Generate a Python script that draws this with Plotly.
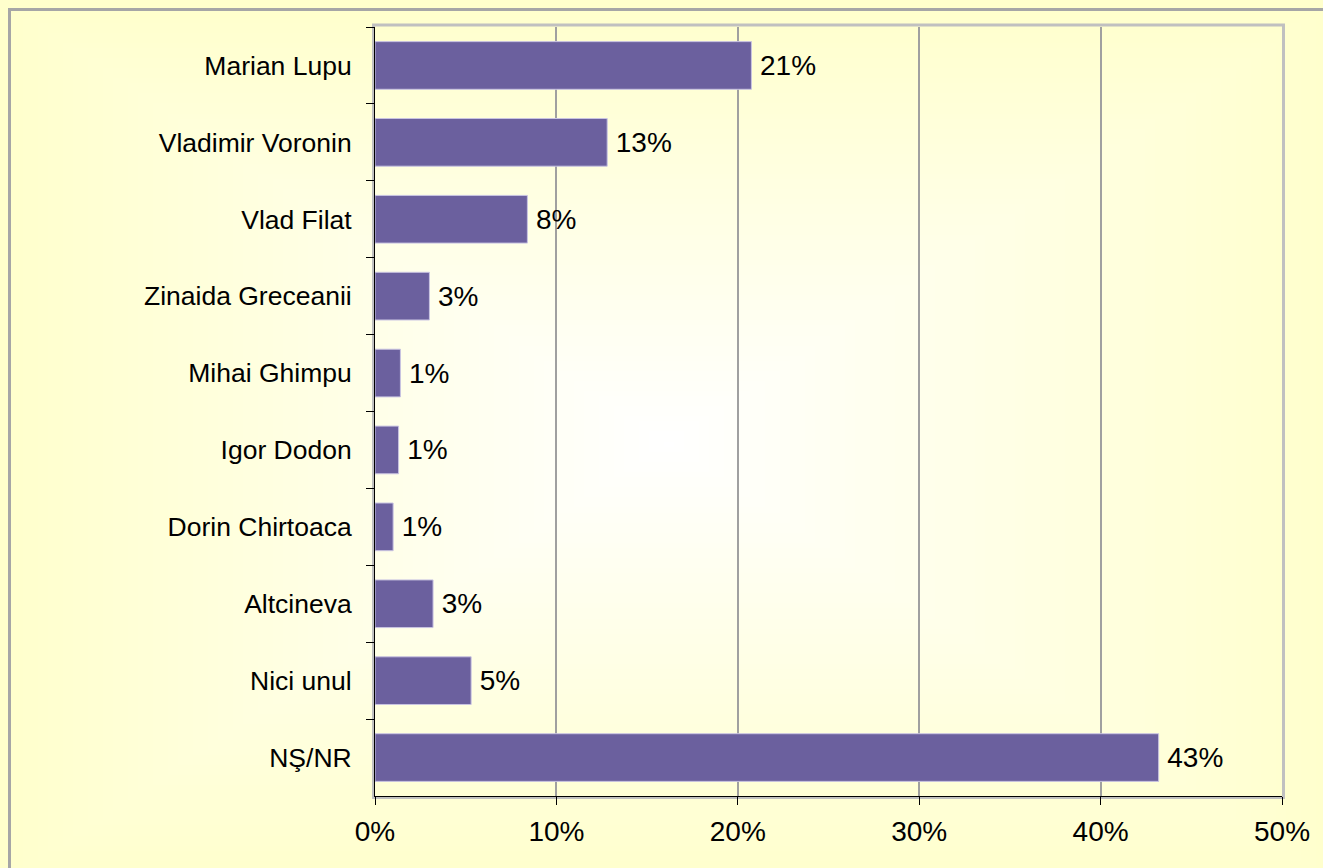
import base64, struct, zlib
import numpy as np
import plotly.graph_objects as go

# ---- data ----
candidates = ["Marian Lupu", "Vladimir Voronin", "Vlad Filat", "Zinaida Greceanii",
              "Mihai Ghimpu", "Igor Dodon", "Dorin Chirtoaca", "Altcineva",
              "Nici unul", "NŞ/NR"]
shares = [20.75, 12.8, 8.4, 3.0, 1.4, 1.3, 1.0, 3.2, 5.3, 43.2]
share_labels = ["21%", "13%", "8%", "3%", "1%", "1%", "1%", "3%", "5%", "43%"]
x_tickvals = [0, 10, 20, 30, 40, 50]
x_ticktext = ["0%", "10%", "20%", "30%", "40%", "50%"]

# ---- figure geometry (page margin removed, figure fills the window) ----
W, H = 1323, 868
ML, MR, MT, MB = 375, 41, 27, 72
PW, PH = W - ML - MR, H - MT - MB

def px(xp):
    return (xp - ML) / PW

def py(yp):
    return (H - MB - yp) / PH

# ---- background gradient (rectangular, from centre) ----
gw, gh = 264, 172
cx, cy = 0.505 * gw, 0.51 * gh
xs = (np.arange(gw) + 0.5 - cx) / cx
ys = (np.arange(gh) + 0.5 - cy) / cy
t = np.maximum(np.abs(xs)[None, :], np.abs(ys)[:, None])
t = np.clip(t, 0, 1)
r = np.full_like(t, 255)
g = np.full_like(t, 255)
b = 255 - 51 * t
img = np.stack([r, g, b], axis=-1).round().astype(np.uint8)

def make_png(arr):
    h, w, _ = arr.shape
    raw = b"".join(b"\x00" + arr[i].tobytes() for i in range(h))
    def chunk(tag, data):
        c = struct.pack(">I", len(data)) + tag + data
        return c + struct.pack(">I", zlib.crc32(tag + data) & 0xFFFFFFFF)
    return (b"\x89PNG\r\n\x1a\n" + chunk(b"IHDR", struct.pack(">IIBBBBB", w, h, 8, 2, 0, 0, 0))
            + chunk(b"IDAT", zlib.compress(raw, 9)) + chunk(b"IEND", b""))

bg_src = "data:image/png;base64," + base64.b64encode(make_png(img)).decode()

FONT = "Arial, Liberation Sans, sans-serif"

fig = go.Figure(go.Bar(
    x=shares,
    y=candidates,
    orientation="h",
    marker=dict(color="#6B609E", line=dict(color="#C9C4E2", width=1)),
    text=["\u2009" + s for s in share_labels],
    texttemplate="%{text}",
    textposition="outside",
    textfont=dict(family=FONT, size=28, color="#000000"),
    constraintext="none",
    cliponaxis=False,
    hoverinfo="skip",
))

frame_line = dict(color="#A6A6A6", width=3)
fig.update_layout(
    width=W, height=H,
    margin=dict(l=ML, r=MR, t=MT, b=MB, pad=0),
    paper_bgcolor="#FFFFCC",
    plot_bgcolor="rgba(0,0,0,0)",
    bargap=0.38,
    showlegend=False,
    font=dict(family=FONT, color="#000000"),
    images=[dict(source=bg_src, xref="paper", yref="paper",
                 x=px(0), y=py(0), sizex=px(W) - px(0), sizey=py(0) - py(H),
                 xanchor="left", yanchor="top", sizing="stretch", layer="below")],
    shapes=[
        # outer chart frame: top and left edges (right/bottom lie outside the view)
        dict(type="line", xref="paper", yref="paper",
             x0=px(8), x1=px(W), y0=py(9.5), y1=py(9.5), line=frame_line, layer="below"),
        dict(type="line", xref="paper", yref="paper",
             x0=px(9.5), x1=px(9.5), y0=py(8), y1=py(H), line=frame_line, layer="below"),
        # plot area frame
        dict(type="rect", xref="paper", yref="paper",
             x0=px(373.5), x1=px(1283.5), y0=py(25), y1=py(797.5),
             line=dict(color="#C0C0C0", width=3), layer="below"),
    ],
)

fig.update_xaxes(
    range=[0, 50],
    tickvals=x_tickvals, ticktext=x_ticktext,
    showgrid=True, gridcolor="#A0A0A0", gridwidth=2,
    showline=True, linecolor="#000000", linewidth=1,
    ticks="outside", ticklen=8, tickcolor="#000000", tickwidth=1,
    tickfont=dict(family=FONT, size=28, color="#000000"),
    ticklabelstandoff=2,
    zeroline=False, fixedrange=True,
)
fig.update_yaxes(
    autorange="reversed",
    type="category",
    tickson="boundaries",
    showgrid=False,
    showline=True, linecolor="#000000", linewidth=1,
    ticks="outside", ticklen=8, tickcolor="#000000", tickwidth=1,
    tickfont=dict(family=FONT, size=26.5, color="#000000"),
    ticklabelstandoff=17,
    fixedrange=True,
)

fig.write_html(
    "out.html",
    config={"displayModeBar": False},
    post_script="document.body.style.margin='0';"
                "document.body.style.overflow='hidden';"
                "document.documentElement.style.overflow='hidden';"
                "document.body.style.background='#FFFFCC';",
)
